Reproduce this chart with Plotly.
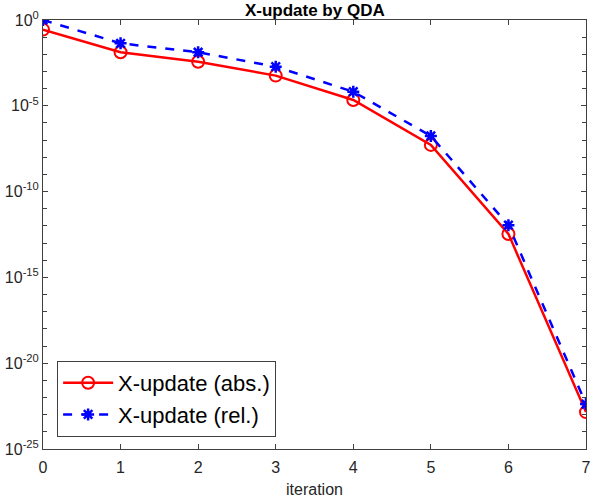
import plotly.graph_objects as go

iterations = [0, 1, 2, 3, 4, 5, 6, 7]
abs_update = [2.75e-1, 1.32e-2, 3.7e-3, 5.75e-4, 2.19e-5, 5.25e-8, 3.39e-13, 1.41e-23]
rel_update = [1.0, 4.37e-2, 1.32e-2, 1.9e-3, 6.6e-5, 1.74e-7, 1.1e-12, 4.17e-23]
x_tick_vals = [0, 1, 2, 3, 4, 5, 6, 7]
y_tick_vals = [1e0, 1e-5, 1e-10, 1e-15, 1e-20, 1e-25]
y_tick_text = ["10<sup>0</sup>", "10<sup>-5</sup>", "10<sup>-10</sup>", "10<sup>-15</sup>",
               "10<sup>-20</sup>", "10<sup>-25</sup>"]
y_minor_vals = [10.0 ** (-k) for k in range(0, 26)]

fig = go.Figure()
fig.add_trace(go.Scatter(
    x=iterations, y=abs_update, name="X-update (abs.)", mode="lines+markers",
    line=dict(color="#ff0000", width=2.5),
    marker=dict(symbol="circle-open", size=12, color="#ff0000", line=dict(width=2, color="#ff0000")),
))
fig.add_trace(go.Scatter(
    x=iterations, y=rel_update, name="X-update (rel.)", mode="lines+markers",
    line=dict(color="#0000ff", width=2.5, dash="dash"),
    marker=dict(symbol="asterisk-open", size=10, color="#0000ff", line=dict(width=2.5, color="#0000ff")),
))

axis_color = "#404040"
fig.update_layout(
    width=594, height=500,
    margin=dict(l=43, r=8, t=20, b=51),
    paper_bgcolor="white", plot_bgcolor="white",
    font=dict(family="Liberation Sans, Arial, sans-serif", size=16, color="#262626"),
    title=dict(text="<b>X-update by QDA</b>", x=0.53, xanchor="center", y=0.98, yanchor="middle",
               font=dict(size=17, color="black")),
    showlegend=True,
    legend=dict(x=0.026, y=0.028, xanchor="left", yanchor="bottom",
                bgcolor="white", bordercolor=axis_color, borderwidth=1,
                font=dict(size=22, color="black"), tracegroupgap=0, itemwidth=50),
    xaxis=dict(range=[0, 7], tickmode="array", tickvals=x_tick_vals, automargin=False,
               showgrid=False, zeroline=False, showline=True, linecolor=axis_color, linewidth=1,
               mirror="allticks", ticks="inside", ticklen=5, tickcolor=axis_color,
               tickfont=dict(size=16), ticklabelstandoff=4,
               title=dict(text="iteration", font=dict(size=16), standoff=8)),
    yaxis=dict(type="log", range=[-25, 0], tickmode="array", tickvals=y_tick_vals, ticktext=y_tick_text,
               automargin=False,
               showgrid=False, zeroline=False, showline=True, linecolor=axis_color, linewidth=1,
               mirror="allticks", ticks="inside", ticklen=5, tickcolor=axis_color,
               tickfont=dict(size=16),
               minor=dict(tickmode="array", tickvals=y_minor_vals, ticks="inside", ticklen=4,
                          tickcolor=axis_color, showgrid=False)),
)

fig.write_html("out.html", config={"displayModeBar": False},
               post_script="document.body.style.margin='0';document.body.style.padding='0';")
